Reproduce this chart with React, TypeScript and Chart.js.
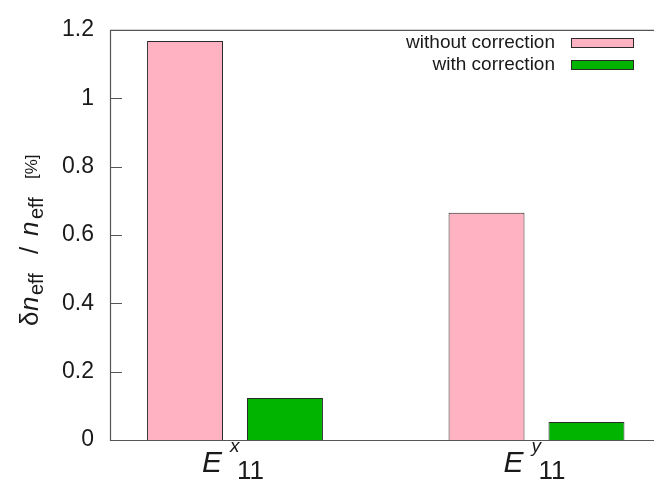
import React, { useEffect, useRef } from "react";
import { Chart, registerables } from "chart.js";

Chart.register(...registerables);

// ---- data ----
const categoryBase = ["E", "E"];
const categorySup = ["x", "y"];
const categorySub = ["11", "11"];
const seriesNames = ["without correction", "with correction"];
const withoutCorrection = [1.167, 0.665];
const withCorrection = [0.123, 0.053];
const yTickValues = [0, 0.2, 0.4, 0.6, 0.8, 1, 1.2];

const PINK = "#ffb2c1";
const GREEN = "#00b400";
const EDGE = "#2a2a2a";
const TEXT = "#1a1a1a";
const FONT = "'Liberation Sans', Arial, Helvetica, sans-serif";

const decorPlugin = {
  id: "decor",
  afterDraw(chart: any) {
    const ctx = chart.ctx as CanvasRenderingContext2D;
    const { left, right, top, bottom } = chart.chartArea;
    const xs = chart.scales.x;
    const ys = chart.scales.y;
    ctx.save();
    // frame
    ctx.strokeStyle = "#555";
    ctx.lineWidth = 1.2;
    ctx.beginPath();
    ctx.moveTo(right + 5, top + 0.5);
    ctx.lineTo(left + 0.5, top + 0.5);
    ctx.lineTo(left + 0.5, bottom + 0.5);
    ctx.lineTo(right + 5, bottom + 0.5);
    ctx.stroke();
    // inward y ticks
    ctx.beginPath();
    yTickValues.forEach((v) => {
      const y = Math.round(ys.getPixelForValue(v)) + 0.5;
      ctx.moveTo(left, y);
      ctx.lineTo(left + 12, y);
    });
    ctx.stroke();

    // x category labels
    ctx.fillStyle = TEXT;
    ctx.textBaseline = "alphabetic";
    ctx.textAlign = "left";
    categoryBase.forEach((b, i) => {
      const c = xs.getPixelForValue(i);
      ctx.font = `italic 30px ${FONT}`;
      ctx.fillText(b, c - 33, 472);
      ctx.font = `italic 19px ${FONT}`;
      ctx.fillText(categorySup[i], c - 5, 452);
      ctx.font = `26px ${FONT}`;
      ctx.fillText(categorySub[i], c + 2, 479);
    });

    // y axis title (rotated)
    ctx.save();
    ctx.translate(38, 326);
    ctx.rotate(-Math.PI / 2);
    const segs: [string, string, number, number][] = [
      ["δ", `26px ${FONT}`, 0, 0],
      ["n", `italic 26px ${FONT}`, 15, 0],
      ["eff", `20px ${FONT}`, 31, 5],
      ["/", `26px ${FONT}`, 72, 0],
      ["n", `italic 26px ${FONT}`, 90, 0],
      ["eff", `20px ${FONT}`, 107, 5],
      ["[%]", `17px ${FONT}`, 147, -1],
    ];
    segs.forEach(([t, f, dx, dy]) => {
      ctx.font = f;
      ctx.fillText(t, dx, dy);
    });
    ctx.restore();

    // legend
    const colors = [PINK, GREEN];
    const rowsY = [43, 65];
    ctx.font = `19px ${FONT}`;
    ctx.textAlign = "right";
    ctx.textBaseline = "middle";
    seriesNames.forEach((name, i) => {
      ctx.fillStyle = TEXT;
      ctx.fillText(name, 555, rowsY[i]);
      ctx.fillStyle = colors[i];
      ctx.fillRect(571, rowsY[i] - 5, 63, 10);
      ctx.strokeStyle = EDGE;
      ctx.lineWidth = 1;
      ctx.strokeRect(571.5, rowsY[i] - 4.5, 62, 9);
    });
    ctx.restore();
  },
};

export default function App() {
  const ref = useRef<HTMLCanvasElement | null>(null);
  useEffect(() => {
    if (!ref.current) return;
    const chart = new Chart(ref.current, {
      type: "bar",
      data: {
        datasets: [
          {
            label: seriesNames[0],
            data: withoutCorrection.map((v, i) => ({ x: i, y: v })),
            backgroundColor: PINK,
            borderColor: EDGE,
            borderWidth: 1,
          },
          {
            label: seriesNames[1],
            data: withCorrection.map((v, i) => ({ x: i, y: v })),
            backgroundColor: GREEN,
            borderColor: EDGE,
            borderWidth: 1,
          },
        ],
      },
      options: {
        animation: false,
        responsive: false,
        devicePixelRatio: 1,
        categoryPercentage: 0.663,
        barPercentage: 0.76,
        layout: { padding: { top: 23, right: 0, bottom: 42, left: 0 } },
        plugins: { legend: { display: false }, tooltip: { enabled: false } },
        scales: {
          x: {
            type: "linear",
            offset: false,
            min: -125 / 301.5,
            max: 419 / 301.5,
            display: false,
            grid: { offset: false },
            afterBuildTicks: (scale: any) => {
              scale.ticks = categoryBase.map((_, i) => ({ value: i }));
            },
          },
          y: {
            min: 0,
            max: 1.2,
            ticks: {
              stepSize: 0.2,
              padding: 16,
              color: TEXT,
              font: { family: FONT, size: 23 },
              callback: (v: any) => String(Math.round(Number(v) * 10) / 10),
            },
            grid: { display: false, drawTicks: false },
            border: { display: false },
            afterFit: (scale: any) => {
              scale.width = 110;
            },
          },
        },
      } as any,
      plugins: [decorPlugin],
    });
    return () => chart.destroy();
  }, []);
  return (
    <div style={{ position: "fixed", left: 0, top: 0, width: 654, height: 482, background: "#fff" }}>
      <canvas ref={ref} width={654} height={482} style={{ width: 654, height: 482 }} />
    </div>
  );
}
